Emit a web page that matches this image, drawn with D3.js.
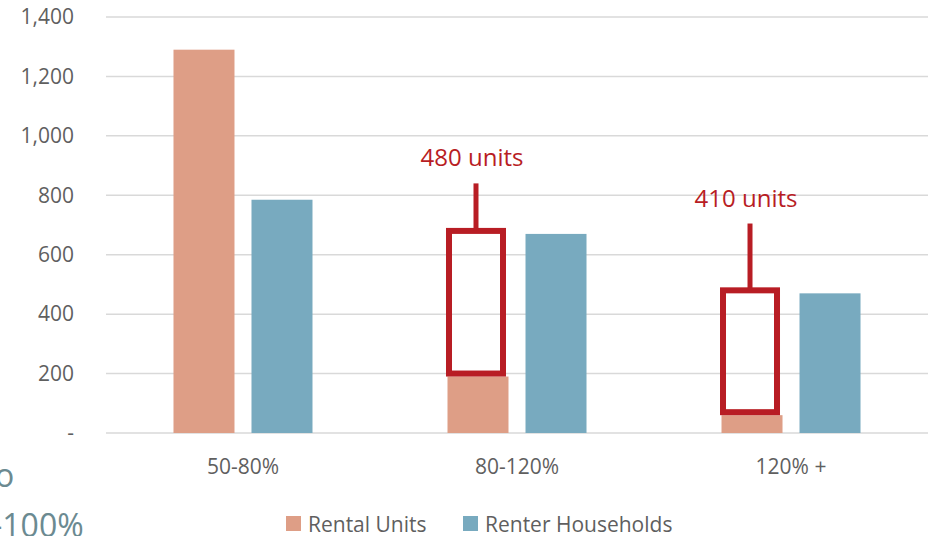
<!DOCTYPE html>
<html>
<head>
<meta charset="utf-8">
<script src="https://cdn.jsdelivr.net/npm/d3@7"></script>
<style>
  body { margin: 0; background: #fff; }
  svg text { font-family: "Open Sans", "Noto Sans", sans-serif; }
</style>
</head>
<body>
<div id="chart"></div>
<script>
// chart values
var categories = ["50-80%", "80-120%", "120% +"];
var seriesNames = ["Rental Units", "Renter Households"];
var rentalUnits = [1290, 190, 60];
var renterHouseholds = [785, 670, 470];
var yTicks = [0, 200, 400, 600, 800, 1000, 1200, 1400];
// gap callouts: label text and the value where the stem ends
var gapLabels = ["", "480 units", "410 units"];
var gapStemTop = [0, 840, 705];

var width = 940, height = 536;
var colors = ["#DE9E86", "#78AABF"];
var red = "#B81D24";

var svg = d3.select("#chart").append("svg")
    .attr("width", width)
    .attr("height", height);

var x = d3.scaleBand()
    .domain(categories)
    .range([106, 928])
    .paddingInner(0.4927)
    .paddingOuter(0.2463);

var xInner = d3.scaleBand()
    .domain(seriesNames)
    .range([0, x.bandwidth()])
    .paddingInner(0.218);

var y = d3.scaleLinear()
    .domain([0, 1400])
    .range([433, 17]);

// grid lines
svg.append("g")
    .selectAll("line")
    .data(yTicks)
    .enter().append("line")
    .attr("x1", 106)
    .attr("x2", 928)
    .attr("y1", function(d){ return y(d); })
    .attr("y2", function(d){ return y(d); })
    .attr("stroke", "#d9d9d9")
    .attr("stroke-width", 1.5);

// y axis labels
var yAxis = svg.append("g")
    .attr("transform", "translate(96,0)")
    .call(d3.axisLeft(y).tickValues(yTicks).tickSize(0).tickPadding(22)
        .tickFormat(function(d){ return d === 0 ? "-" : d3.format(",")(d); }));
yAxis.select(".domain").remove();
yAxis.selectAll("text")
    .style("font-size", "21px")
    .attr("fill", "#5f5f5f");

// x axis labels
var xAxis = svg.append("g")
    .attr("transform", "translate(0,433)")
    .call(d3.axisBottom(x).tickSize(0).tickPadding(26));
xAxis.select(".domain").remove();
xAxis.selectAll("text")
    .style("font-size", "21px")
    .attr("fill", "#5f5f5f");

// bars
var rows = categories.map(function(c, i){
    return {cat: c, values: [rentalUnits[i], renterHouseholds[i]]};
});

var group = svg.selectAll(".grp")
    .data(rows)
    .enter().append("g")
    .attr("class", "grp")
    .attr("transform", function(d){ return "translate(" + x(d.cat) + ",0)"; });

group.selectAll("rect")
    .data(function(d){ return d.values.map(function(v, j){ return {name: seriesNames[j], value: v, j: j}; }); })
    .enter().append("rect")
    .attr("x", function(d){ return xInner(d.name); })
    .attr("y", function(d){ return y(d.value); })
    .attr("width", xInner.bandwidth())
    .attr("height", function(d){ return y(0) - y(d.value); })
    .attr("fill", function(d){ return colors[d.j]; });

// gap callouts
var notes = svg.selectAll(".note")
    .data(rows.filter(function(d, i){ return gapLabels[i] !== ""; }))
    .enter().append("g")
    .attr("class", "note");

notes.each(function(d){
    var i = categories.indexOf(d.cat);
    var g = d3.select(this);
    var bx = x(d.cat) + xInner(seriesNames[0]);
    var bw = xInner.bandwidth();
    var top = y(renterHouseholds[i]) - 3;
    var bottom = y(rentalUnits[i]) - 3;
    var cx = bx + bw / 2 - 2;

    g.append("rect")
        .attr("x", bx + 1.5)
        .attr("y", top)
        .attr("width", bw - 7)
        .attr("height", bottom - top)
        .attr("fill", "none")
        .attr("stroke", red)
        .attr("stroke-width", 6);

    g.append("line")
        .attr("x1", cx).attr("x2", cx)
        .attr("y1", y(gapStemTop[i]))
        .attr("y2", top)
        .attr("stroke", red)
        .attr("stroke-width", 5);

    g.append("text")
        .attr("x", cx - 4)
        .attr("y", y(gapStemTop[i]) - 17)
        .attr("text-anchor", "middle")
        .style("font-size", "24px")
        .attr("fill", red)
        .text(gapLabels[i]);
});

// legend
var legendX = [286, 463];
var legend = svg.selectAll(".legend")
    .data(seriesNames)
    .enter().append("g")
    .attr("class", "legend")
    .attr("transform", function(d, i){ return "translate(" + legendX[i] + ",516)"; });

legend.append("rect")
    .attr("width", 15)
    .attr("height", 15)
    .attr("fill", function(d, i){ return colors[i]; });

legend.append("text")
    .attr("x", 22)
    .attr("y", 16)
    .style("font-size", "21px")
    .attr("fill", "#5f5f5f")
    .text(function(d){ return d; });

// clipped text from a neighbouring panel at the left edge
svg.append("text")
    .attr("x", -5)
    .attr("y", 487)
    .style("font-size", "32px")
    .attr("fill", "#6B8A91")
    .text("o");
svg.append("text")
    .attr("x", -8)
    .attr("y", 537)
    .style("font-size", "32px")
    .attr("fill", "#6B8A91")
    .text("-100%");
</script>
</body>
</html>
